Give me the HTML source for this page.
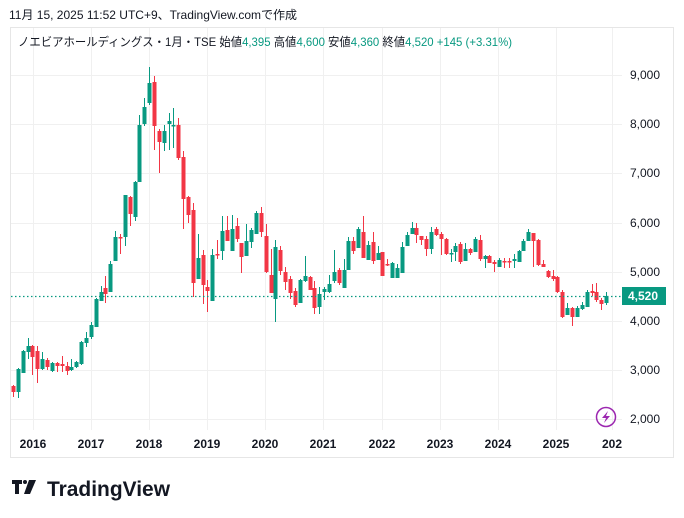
<!DOCTYPE html>
<html><head><meta charset="utf-8"><style>
html,body{margin:0;padding:0;background:#fff;width:684px;height:518px;overflow:hidden}
svg{display:block}
text{font-family:"Liberation Sans","Noto Sans CJK JP",sans-serif}
</style></head><body>
<svg id="s" width="684" height="518" xmlns="http://www.w3.org/2000/svg">
<rect x="10.5" y="27.5" width="663" height="430" fill="#fff" stroke="#e6e6e6"/>
<g id="grid" stroke="#f0f0f0" stroke-width="1"></g>
<g id="c"></g>
<line x1="11" y1="296.5" x2="622" y2="296.5" stroke="#089981" stroke-dasharray="1.5,2.5" stroke-width="1.2"/>
<text x="9" y="19" font-size="12" fill="#131722">11月 15, 2025 11:52 UTC+9、TradingView.comで作成</text>
<text x="18" y="46" font-size="12" fill="#131722" textLength="494" lengthAdjust="spacingAndGlyphs">ノエビアホールディングス・1月・TSE 始値<tspan fill="#089981">4,395</tspan> 高値<tspan fill="#089981">4,600</tspan> 安値<tspan fill="#089981">4,360</tspan> 終値<tspan fill="#089981">4,520 +145 (+3.31%)</tspan></text>
<g font-size="12" fill="#131722" text-anchor="start">
<text x="630" y="79">9,000</text><text x="630" y="128">8,000</text><text x="630" y="177">7,000</text><text x="630" y="227">6,000</text><text x="630" y="276">5,000</text><text x="630" y="325">4,000</text><text x="630" y="374">3,000</text><text x="630" y="423">2,000</text>
</g>
<rect x="622" y="287" width="44" height="18" fill="#089981"/>
<text x="628" y="300" font-size="12" font-weight="bold" fill="#fff">4,520</text>
<g font-size="12" fill="#131722" font-weight="bold" text-anchor="middle">
<text x="33" y="448">2016</text><text x="91" y="448">2017</text><text x="149" y="448">2018</text><text x="207" y="448">2019</text><text x="265" y="448">2020</text><text x="323" y="448">2021</text><text x="382" y="448">2022</text><text x="440" y="448">2023</text><text x="498" y="448">2024</text><text x="556" y="448">2025</text><text x="612" y="448">202</text>
</g>
<circle cx="606" cy="417" r="9.5" fill="none" stroke="#9c27b0" stroke-width="1.5"/>
<path d="M608 411 L602 418 L606 418 L604 423 L610 416 L606 416 Z" fill="#9c27b0"/>
<g fill="#131722"><rect x="12" y="480" width="10" height="4"/><rect x="15" y="480" width="4" height="14"/><rect x="23" y="480" width="4" height="4" rx="2"/><path d="M29 480 L36 480 L30 494 L24 494 Z"/></g>
<text x="47" y="496" font-size="21" font-weight="bold" fill="#131722" textLength="123" lengthAdjust="spacingAndGlyphs">TradingView</text>
</svg>
<script>
var g=document.getElementById('grid'),c=document.getElementById('c'),ns='http://www.w3.org/2000/svg';
function el(p,t,a){var e=document.createElementNS(ns,t);for(var k in a)e.setAttribute(k,a[k]);p.appendChild(e);}
[75,124,173,223,272,321,370,419].forEach(function(y){el(g,'line',{x1:11,x2:622,y1:y+.5,y2:y+.5});});
[33,91,149,207,265,323,382,440,498,556,612].forEach(function(x){el(g,'line',{x1:x+.5,x2:x+.5,y1:28,y2:430});});
var d=[[13,386,392,385,397],[18,392,369,398,368],[23,373,351,373,350],[28,352,346,359,338],[32,346,357,345,375],[37,351,369,346,383],[42,369,359,370,352],[47,360,367,358,370],[52,371,363,372,362],[57,363,366,362,372],[62,364,366,356,372],[67,366,371,362,375],[71,370,367,371,359],[76,367,362,368,361],[81,364,342,365,341],[86,343,338,347,332],[91,337,325,339,322],[96,327,299,327,298],[101,301,292,301,286],[105,288,294,276,303],[110,292,264,292,261],[115,261,237,261,231],[120,237,238,234,254],[125,237,195,246,195],[130,197,214,196,226],[135,217,182,221,181],[139,182,125,182,115],[144,124,107,126,98],[149,103,83,105,67],[154,82,126,76,150],[159,131,142,129,173],[164,143,131,151,125],[169,124,121,150,113],[173,125,125,148,108],[178,125,158,118,160],[183,157,199,151,229],[188,197,215,196,223],[193,210,283,203,297],[198,279,258,279,234],[203,255,285,250,304],[207,287,291,280,312],[212,301,255,301,249],[217,254,255,240,259],[222,251,231,260,216],[227,230,241,216,241],[232,251,229,251,215],[237,226,239,218,242],[241,243,257,243,273],[246,256,241,256,224],[251,242,230,248,228],[256,234,213,234,211],[261,213,232,207,237],[266,236,272,224,273],[271,275,293,249,293],[275,299,247,322,240],[280,250,271,246,275],[285,272,282,267,290],[290,279,293,276,299],[295,291,305,288,307],[300,303,280,303,279],[305,281,276,282,256],[310,277,290,276,290],[314,288,308,281,314],[319,307,294,314,287],[324,292,289,300,287],[329,292,284,293,275],[334,281,272,283,250],[339,270,283,268,285],[344,288,270,288,259],[348,270,241,270,237],[353,241,251,237,254],[358,248,229,248,227],[363,232,258,216,258],[368,260,245,260,241],[373,242,261,232,264],[378,260,253,260,246],[382,252,276,252,276],[387,264,264,259,266],[392,278,263,278,262],[397,278,268,278,264],[402,273,247,273,242],[407,246,235,246,232],[412,234,228,234,222],[416,228,235,223,243],[421,236,240,236,245],[426,239,249,236,256],[431,249,232,254,227],[436,229,235,227,236],[441,234,239,232,255],[446,239,254,238,255],[451,253,253,249,262],[455,252,246,261,243],[460,244,262,242,264],[465,261,249,261,243],[470,249,253,248,255],[475,252,239,252,237],[480,240,259,235,261],[485,259,256,255,268],[489,256,263,255,263],[494,262,264,260,272],[499,267,260,267,258],[504,261,261,258,268],[509,261,261,258,268],[514,261,259,254,268],[519,262,251,262,250],[523,251,241,251,239],[528,241,232,241,229],[533,233,241,233,267],[538,240,265,239,266],[543,264,267,260,267],[548,271,277,270,278],[553,276,279,270,281],[557,277,292,276,293],[562,292,317,290,318],[567,315,308,315,303],[572,308,317,307,326],[577,317,308,317,306],[582,309,305,310,302],[587,307,292,307,290],[592,291,293,284,296],[596,292,300,283,302],[601,300,304,298,310],[606,303,296,305,292]];
d.forEach(function(k,i){var x=k[0],o=k[1],cl=k[2],col=cl<o?'#089981':'#f23645';
if(cl==o){col=(i==33||i==86||i==90||i==98||i==99)?'#089981':'#f23645';}
el(c,'line',{x1:x+.5,x2:x+.5,y1:k[3],y2:k[4],stroke:col,'stroke-width':1});
var t=Math.min(o,cl),h=Math.max(Math.abs(o-cl),1.5);el(c,'rect',{x:x-1.5,y:t,width:4,height:h,fill:col});});
</script>
</body></html>
